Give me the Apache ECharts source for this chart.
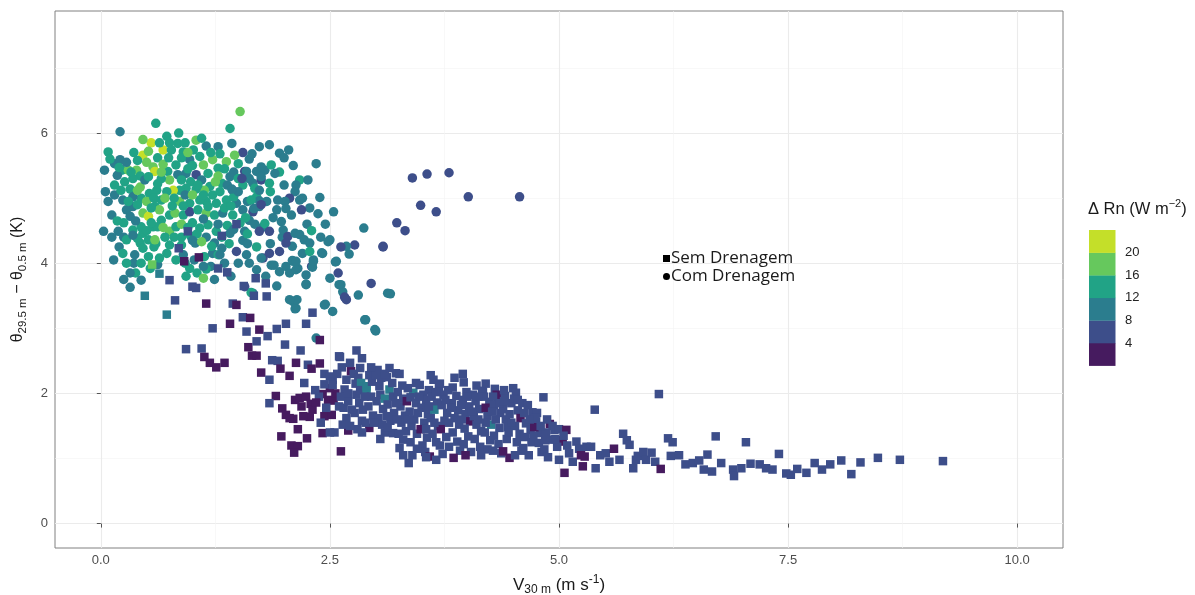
<!DOCTYPE html>
<html>
<head>
<meta charset="utf-8">
<title>Gradiente de temperatura potencial vs vento</title>
<script src="https://cdn.jsdelivr.net/npm/echarts@6/dist/echarts.min.js"></script>
<style>
  html, body { margin: 0; padding: 0; background: #ffffff; }
  #chart { width: 1195px; height: 595px; }
</style>
</head>
<body>
<div id="chart"></div>
<script>
// Axis ticks (major and minor grid positions)
const xTicks = [0, 2.5, 5, 7.5, 10];
const xMinor = [1.25, 3.75, 6.25, 8.75];
const yTicks = [0, 2, 4, 6];
const yMinor = [1, 3, 5, 7];

// Binned colour scale for ΔRn (W m-2)
const rnBreaks = [4, 8, 12, 16, 20];
const rnColors = ['#461b5f', '#3d4e8a', '#2b7d8e', '#21a386', '#66c85d', '#c4df29'];

// Sem Drenagem: [V30m, Δθ, ΔRn]
const semDrenagem = [
  [0.56,3.98,18],[0.64,3.84,10],[0.48,3.50,10],[0.72,3.21,10],[0.75,3.74,6],[0.81,3.43,6],[0.91,4.03,3],[1.07,4.09,3],
  [0.85,4.23,6],[1.28,3.92,6],[1.38,3.86,6],[1.32,4.42,6],[1.48,4.60,6],[0.95,4.49,6],[1.00,3.64,6],[1.04,3.62,6],
  [1.15,3.38,3],[1.44,3.38,6],[1.48,3.36,3],[1.69,3.77,6],[1.80,3.69,6],[1.56,3.65,6],[1.67,3.50,6],[1.81,3.49,6],
  [1.55,3.17,6],[1.63,3.16,3],[1.41,3.07,3],[1.22,3.00,6],[1.59,2.95,6],[1.73,2.98,3],[1.92,2.99,6],[2.02,3.07,6],
  [2.24,3.07,6],[2.31,3.24,6],[1.82,2.88,6],[2.01,2.75,6],[2.18,2.66,6],[2.39,2.82,3],[1.61,2.71,3],[1.65,2.58,3],
  [1.70,2.58,3],[1.70,2.80,6],[1.10,2.69,6],[0.93,2.68,6],[1.13,2.56,3],[1.19,2.47,3],[1.26,2.40,3],[1.35,2.47,3],
  [1.87,2.51,6],[1.93,2.50,6],[2.13,2.47,3],[2.26,2.44,6],[2.39,2.46,3],[2.61,2.56,6],[2.79,2.66,6],[2.85,2.54,6],
  [1.96,2.38,3],[1.75,2.32,3],[1.84,2.21,6],[2.06,2.27,3],[2.30,2.38,3],[2.22,2.16,6],[2.44,2.30,6],[2.72,2.47,6],
  [2.73,2.34,3],[2.83,2.39,6],[2.53,2.21,6],[2.50,2.26,6],
  [1.91,1.96,3],[1.98,1.77,3],[2.02,1.67,3],[2.10,1.61,3],[2.12,1.90,3],[2.17,1.93,3],[2.24,1.95,3],[2.29,1.84,3],
  [2.31,1.75,3],[2.28,1.64,3],[2.21,1.65,3],[2.19,1.80,3],[2.06,1.62,3],[2.42,1.99,3],[2.48,1.90,3],[2.54,1.89,3],
  [2.56,2.00,3],[2.44,1.65,3],[2.52,1.67,3],[2.42,1.39,3],[2.55,1.40,6],[2.50,1.40,6],[2.15,1.45,3],[2.25,1.31,3],
  [1.97,1.34,3],[2.08,1.20,3],[2.15,1.19,3],[2.11,1.09,3],[2.62,1.11,3],[2.70,1.43,3],[1.84,1.85,6],[2.38,1.95,6],
  [2.46,1.78,6],[2.34,2.05,6],[2.50,2.08,3],[2.60,1.80,6],[2.40,1.55,6],[2.35,1.86,3],[2.44,2.14,6],[2.53,2.13,6],
  [2.60,2.57,6],[2.63,2.40,6],[2.66,2.06,6],[2.68,2.21,6],[2.62,1.95,6],[2.65,1.78,6],[2.68,1.62,6],[2.64,1.52,6],[2.70,1.88,6],
  [2.76,2.30,6],[2.78,2.15,6],[2.81,2.24,6],[2.84,2.16,10],[2.79,1.98,6],[2.82,1.85,6],[2.77,1.70,6],[2.85,1.58,6],[2.80,1.45,6],[2.83,2.05,6],
  [2.90,2.06,10],[2.93,2.28,6],[2.90,2.11,10],[2.95,1.95,6],[2.92,1.80,6],[2.97,1.66,6],[2.93,1.47,3],[2.89,1.55,6],[2.96,2.18,6],
  [3.02,2.36,6],[3.04,2.11,6],[3.05,1.98,6],[3.01,1.88,6],[3.08,1.76,6],[3.03,1.62,6],[3.07,1.52,6],[3.10,1.40,6],[3.06,2.24,6],[3.10,1.92,10],
  [3.15,2.39,6],[3.15,2.06,10],[3.19,1.95,6],[3.13,1.83,6],[3.20,1.70,6],[3.16,1.58,6],[3.19,1.39,6],[3.13,1.48,6],[3.22,2.31,6],[3.18,2.16,6],
  [3.26,2.30,6],[3.24,2.02,6],[3.30,1.92,6],[3.27,1.80,6],[3.32,1.66,6],[3.28,1.55,6],[3.30,1.29,6],[3.26,1.16,6],[3.33,1.42,6],[3.29,2.12,6],[3.34,1.88,3],
  [3.41,2.01,10],[3.38,1.94,6],[3.44,1.85,6],[3.37,1.72,6],[3.42,1.60,6],[3.39,1.50,6],[3.45,1.38,6],[3.36,0.93,6],[3.40,1.05,6],[3.44,2.16,6],[3.38,1.25,6],
  [3.48,2.13,6],[3.52,1.98,6],[3.55,1.90,6],[3.50,1.78,6],[3.57,1.68,6],[3.53,1.55,6],[3.49,1.45,3],[3.56,1.32,6],[3.51,1.20,6],[3.58,2.05,6],[3.54,1.10,6],
  [3.59,1.03,3],[3.66,0.98,6],[3.63,2.21,6],[3.61,1.95,6],[3.67,1.86,6],[3.64,1.75,10],[3.60,1.62,6],[3.68,1.50,6],[3.62,1.38,6],[3.66,1.25,6],[3.69,2.08,6],
  [3.70,2.15,6],[3.74,1.98,6],[3.72,1.82,6],[3.78,1.70,6],[3.75,1.58,6],[3.71,1.45,3],[3.77,1.33,6],[3.80,1.18,6],[3.73,1.07,6],[3.79,2.05,6],
  [3.86,2.24,6],[3.84,2.09,6],[3.88,1.96,6],[3.83,1.85,6],[3.90,1.74,6],[3.86,1.62,6],[3.91,1.52,6],[3.84,1.40,6],[3.89,1.26,6],[3.92,1.12,6],[3.85,1.01,3],
  [3.96,2.17,6],[3.99,2.02,6],[3.95,1.90,6],[4.02,1.80,6],[3.98,1.68,6],[4.03,1.57,3],[3.97,1.46,6],[4.01,1.34,6],[3.96,1.22,6],[4.04,1.10,6],
  [4.06,1.98,6],[4.10,2.12,6],[4.09,1.88,6],[4.13,1.76,6],[4.07,1.65,6],[4.10,1.52,6],[4.15,1.42,6],[4.08,1.30,6],[4.14,1.18,6],[4.16,2.04,6],
  [4.17,2.03,6],[4.24,1.87,6],[4.20,1.78,3],[4.26,1.52,10],[4.22,1.65,6],[4.19,1.40,6],[4.25,1.28,6],[4.22,1.14,6],[4.18,1.95,6],
  [4.30,2.07,6],[4.33,1.94,6],[4.29,1.82,6],[4.36,1.70,6],[4.31,1.60,6],[4.35,1.47,6],[4.29,1.35,6],[4.34,1.22,6],[4.37,1.08,6],[4.32,1.98,3],
  [4.41,1.96,6],[4.39,1.76,6],[4.42,1.60,6],[4.46,1.68,6],[4.44,1.48,6],[4.39,1.11,3],[4.46,1.01,3],[4.43,1.30,6],[4.48,1.85,6],
  [4.50,2.08,6],[4.53,2.01,6],[4.60,1.85,6],[4.55,1.74,6],[4.58,1.62,3],[4.52,1.50,6],[4.57,1.38,6],[4.54,1.25,6],[4.59,1.12,6],[4.51,1.92,6],
  [4.61,1.16,6],[4.64,1.54,6],[4.71,1.71,6],[4.66,1.82,6],[4.69,1.44,6],[4.63,1.33,6],[4.67,1.05,6],[4.70,1.25,6],
  [4.75,1.57,6],[4.79,1.39,6],[4.76,1.70,6],[4.73,1.48,3],[4.78,1.24,6],[4.81,1.10,6],[4.74,1.62,6],
  [4.83,1.94,6],[4.84,1.14,6],[4.90,1.53,3],[4.91,1.29,6],[4.93,1.50,6],[4.86,1.40,6],[4.88,1.02,6],[4.95,1.44,6],[4.87,1.60,6],
  [5.00,1.45,6],[5.08,1.44,3],[5.02,1.26,3],[5.04,1.28,3],[5.00,0.98,6],[5.06,0.78,3],[5.11,1.08,6],[4.98,1.18,6],[5.05,1.35,6],[5.09,1.20,6],
  [5.19,1.26,6],[5.28,1.03,3],[5.26,0.88,3],[5.22,1.15,6],[5.15,0.95,6],[5.30,1.18,6],[5.24,1.05,3],[5.35,1.18,6],[5.40,0.85,6],[5.39,1.75,6],
  [2.58,2.30,6],[2.70,2.00,6],[2.74,1.75,6],[2.72,1.50,6],[2.86,1.75,6],[2.88,1.95,6],[2.98,1.55,6],[3.00,2.28,6],[3.12,2.25,6],[3.12,1.65,6],
  [3.22,1.85,6],[3.23,1.60,6],[3.35,2.08,6],[3.35,1.60,6],[3.46,1.70,6],[3.47,1.95,6],[3.55,1.45,6],[3.58,1.80,6],[3.64,1.55,6],[3.66,2.02,6],
  [3.76,1.90,6],[3.80,1.55,6],[3.82,1.78,6],[3.93,1.82,6],[3.94,1.60,6],[4.00,1.95,6],[4.05,1.72,6],[4.12,1.95,6],[4.12,1.60,6],[4.20,1.55,6],
  [4.27,1.72,6],[4.28,1.95,6],[4.35,1.85,6],[4.40,1.88,6],[4.45,1.40,6],[4.48,1.55,6],[4.55,1.90,6],[4.62,1.70,6],[4.68,1.60,6],[4.72,1.35,6],
  [4.80,1.50,6],[4.85,1.28,6],[4.96,1.30,6],[3.45,1.15,6],[3.70,1.20,6],[3.98,1.05,3],[4.15,1.05,6],[4.28,1.12,6],[4.52,1.05,6],[3.25,1.38,6],
  [3.05,1.30,6],[2.85,1.40,6],[2.95,2.40,6],[3.10,2.30,6],[3.60,2.28,6],[3.95,2.30,6],[4.20,2.15,6],[4.40,2.05,6],[3.30,1.05,6],[3.55,1.02,6],
  [5.45,1.05,6],[5.51,1.08,6],[5.55,0.95,6],[5.60,1.15,3],[5.66,0.98,6],[5.70,1.38,6],[5.74,1.28,6],[5.77,1.21,6],[5.81,0.85,6],[5.84,0.98,6],
  [5.86,1.04,6],[5.92,1.10,6],[5.95,0.98,6],[6.01,1.09,6],[6.05,0.95,6],[6.09,1.99,6],[6.11,0.84,3],[6.19,1.31,6],[6.24,1.25,6],[6.22,1.04,6],
  [6.31,1.05,6],[6.38,0.91,6],[6.46,0.93,6],[6.53,0.97,6],[6.58,0.83,6],[6.62,1.06,6],[6.71,1.34,6],[6.67,0.80,6],[6.77,0.93,6],[6.90,0.83,6],
  [6.91,0.73,6],[6.99,0.85,6],[7.04,1.25,6],[7.09,0.92,6],[7.19,0.91,6],[7.26,0.85,6],[7.33,0.83,6],[7.40,1.07,6],[7.48,0.77,6],[7.53,0.75,6],
  [7.60,0.84,6],[7.70,0.78,6],[7.79,0.93,6],[7.87,0.83,6],[7.96,0.91,6],[8.08,0.97,6],[8.19,0.76,6],[8.29,0.94,6],[8.48,1.01,6],[8.72,0.98,6],
  [9.19,0.96,6]
];

// Com Drenagem: [V30m, Δθ, ΔRn]
const comDrenagem = [
  [1.52,6.33,18],[0.60,6.15,14],[0.21,6.02,10],[1.41,6.07,14],[1.43,5.84,10],[1.28,5.79,10],[1.55,5.70,6],[1.73,5.79,10],
  [1.84,5.82,10],[1.95,5.69,10],[2.05,5.74,10],[2.35,5.53,10],
  [0.08,5.71,14],[0.04,5.43,10],[0.15,5.53,10],[0.21,5.59,10],[0.23,5.43,14],[0.30,5.43,18],[0.39,5.43,18],[0.43,5.34,14],
  [0.35,5.30,14],[0.15,5.20,14],[0.32,5.14,14],[0.43,5.17,18],[0.48,5.28,10],[0.57,5.48,18],[0.59,5.41,21],[0.68,5.74,21],
  [0.55,5.85,21],[0.46,5.66,21],[0.75,5.85,14],[0.84,5.84,14],[0.77,5.74,14],[0.90,5.71,14],[1.01,5.74,14],[1.04,5.89,18],
  [0.97,5.59,10],[0.88,5.62,14],[0.82,5.51,14],[0.73,5.41,14],[0.75,5.28,18],[0.66,5.30,14],[0.84,5.36,10],[0.93,5.38,10],
  [1.04,5.36,6],[1.12,5.51,18],[1.17,5.38,14],[1.22,5.59,18],[1.28,5.46,14],[1.37,5.56,18],[1.50,5.53,14],[1.57,5.41,6],
  [1.70,5.41,10],[1.79,5.43,10],[1.41,5.33,10],[1.32,5.23,14],[1.19,5.18,14],[1.13,5.12,18],[1.04,5.14,14],[0.93,5.15,14],
  [0.86,5.12,14],[0.79,5.12,21],[0.72,5.10,14],[0.61,5.12,14],[0.53,5.07,14],[0.44,5.00,14],[0.35,5.02,10],[0.24,4.97,10],
  [1.55,5.20,14],[1.66,5.23,10],[1.75,5.28,6],[1.44,5.12,6],[1.70,5.02,14],[1.48,4.92,10],[1.37,4.97,14],[1.26,4.92,14],
  [1.15,4.95,14],[1.08,4.97,14],[0.97,4.92,14],[0.86,4.95,18],[0.66,4.97,14],[0.59,4.87,14],[0.46,4.77,18],[0.52,4.72,21],
  [0.35,4.87,10],[0.28,4.82,10],[0.12,4.74,10],[0.03,4.49,10],[0.19,4.49,10],[0.35,4.51,14],[0.46,4.46,14],[0.57,4.56,14],
  [0.66,4.66,14],[0.75,4.74,14],[0.81,4.77,18],[0.90,4.74,14],[0.97,4.79,6],[1.06,4.82,14],[1.15,4.77,18],[1.24,4.74,14],
  [1.33,4.77,10],[1.44,4.74,14],[1.55,4.82,10],[1.66,4.79,6],[1.73,4.87,10],[1.77,4.56,10],[1.57,4.49,10],[0.32,4.72,10],
  [0.44,4.56,14],[0.62,4.56,14],[0.75,4.49,18],[0.82,4.56,14],[1.08,4.54,14],[1.17,4.59,14],[1.26,4.49,14],[1.62,4.66,10],
  [0.18,5.35,10],[0.26,5.25,14],[0.50,5.55,18],[0.62,5.62,14],[0.68,5.52,18],[0.95,5.45,14],[1.08,5.64,14],[1.15,5.80,10],
  [1.30,5.68,14],[0.62,5.22,14],[0.70,5.00,18],[0.78,4.88,14],[0.92,5.05,10],[1.00,4.62,14],[1.12,4.68,10],[1.22,5.05,14],
  [1.35,4.85,14],[1.45,5.02,14],[1.60,4.95,10],[1.52,4.62,14],[0.40,4.90,14],[0.50,4.95,18],[0.55,4.62,14],[0.38,4.65,10],
  [0.25,4.62,14],[0.08,4.95,10],[0.15,5.05,10],[0.70,4.40,14],[0.88,4.40,14],[1.38,4.58,14],[1.62,5.60,10],[0.98,5.25,14],
  [1.10,5.28,10],[0.52,5.33,14],[0.40,5.58,14],[1.28,5.34,18],[0.88,4.60,18],[0.64,4.82,18],[1.00,5.05,18],[1.46,5.66,18],
  [0.98,4.42,14],[1.40,4.30,14],[1.55,4.35,10],
  [0.10,5.60,14],[0.20,5.47,14],[0.28,5.55,10],[0.36,5.70,14],[0.52,5.72,18],[0.64,5.85,14],[0.72,5.95,14],[0.92,5.85,14],
  [1.10,5.92,14],[1.20,5.70,14],[1.35,5.45,14],[1.45,5.40,10],[1.50,5.30,14],[1.62,5.30,10],[0.05,5.10,10],[0.22,5.12,14],
  [0.30,4.95,14],[0.40,5.12,18],[0.58,5.00,14],[0.66,5.40,18],[0.80,5.00,14],[0.88,5.28,14],[1.00,5.50,14],[1.06,5.20,14],
  [1.17,4.87,14],[1.30,5.10,14],[1.38,5.20,10],[1.28,4.60,10],[1.42,4.88,14],[1.58,4.70,14],[1.68,4.60,10],[0.18,4.65,14],
  [0.25,4.40,10],[0.40,4.38,14],[0.50,4.50,14],[0.58,4.25,14],[0.68,4.55,18],[0.80,4.40,14],[0.88,4.28,14],[0.95,4.55,14],
  [1.05,4.45,14],[1.15,4.40,10],[1.32,4.40,14],[1.45,4.52,10],[0.20,4.25,10],[0.14,4.05,10],[0.24,4.15,14],[0.36,4.00,10],
  [0.25,3.75,10],[0.38,3.85,14],[0.54,3.92,14],[0.62,3.98,10],[0.72,4.15,14],[0.82,4.05,14],[0.92,4.00,14],[1.02,4.05,10],
  [1.05,3.85,14],[1.20,3.95,10],[1.35,4.00,10],[1.42,3.80,10],[1.50,4.00,10],[1.70,3.90,10],[1.80,3.80,10],[1.92,3.65,10],
  [1.98,4.40,10],[2.20,4.15,10],[2.40,4.40,10],[2.45,4.60,10],[2.20,5.00,10],[2.28,4.85,10],[2.00,5.20,10],[1.95,5.40,14],
  [2.10,5.50,10],[1.85,5.10,14],[1.68,5.15,14],[1.50,5.10,10],[0.46,5.90,18],[0.85,6.00,14],[0.60,4.30,14],[0.12,4.40,10],
  [0.55,4.85,14],[0.74,5.62,14],[0.95,5.70,18],[1.12,5.05,14],[1.25,5.25,18],[0.33,5.40,14],[0.90,4.88,14],[1.00,4.35,10],
  [1.85,4.30,10],[1.60,4.45,14],
  [0.28,4.36,14],[0.35,4.43,10],[0.43,4.31,14],[0.52,4.36,14],[0.59,4.36,18],[0.46,4.23,14],[0.37,4.13,10],[0.28,4.00,14],
  [0.44,4.00,14],[0.52,4.10,14],[0.64,4.08,14],[0.32,3.85,10],[0.44,3.74,10],[0.32,3.63,10],[1.12,3.77,18],[1.15,3.91,14],
  [0.93,3.80,14],[0.97,3.92,14],[0.90,4.13,10],[0.75,4.28,14],[1.03,4.31,10],[1.10,4.33,18],[1.24,4.31,10],[1.32,4.23,10],
  [1.24,3.75,10],[1.13,4.10,14],[1.22,4.15,10],[1.28,4.13,14],[1.48,4.18,6],[1.59,4.13,10],[1.62,4.00,10],[1.57,3.64,6],
  [1.66,3.54,10],[1.41,4.46,10],[1.30,4.13,10],[1.21,4.26,14],[1.12,3.95,10],[1.64,3.55,14],
  [1.77,4.08,6],[1.86,3.97,10],[1.95,3.87,10],[2.02,3.95,10],[2.06,3.85,10],[2.10,4.03,10],[2.15,3.92,10],[2.24,3.82,10],
  [2.24,3.67,10],[2.10,3.41,10],[2.13,3.31,10],[2.30,3.95,6],[2.32,4.05,10],[2.42,4.15,10],[2.50,4.36,10],[2.57,4.03,10],
  [2.59,3.85,6],[2.50,3.77,10],[2.62,3.67,10],[2.64,3.56,10],[2.68,3.44,6],[2.44,3.36,10],[2.53,3.26,10],[2.81,3.51,10],
  [2.95,3.69,6],[2.99,2.98,10],[2.89,3.13,10],[2.77,4.28,6],[2.68,4.26,10],[3.08,4.26,6],[3.13,3.54,10],[2.35,2.85,10],
  [2.39,5.01,10],[2.37,4.76,10],[2.54,4.79,10],[2.87,4.54,10],[2.62,4.25,6],[2.48,4.33,10],[2.71,4.14,10],[2.56,4.02,10],
  [2.41,4.16,10],[2.60,3.67,10],[2.66,3.48,6],[3.16,3.53,10],[2.45,3.37,10],[2.12,3.30,10],[2.14,3.44,10],[2.31,3.94,10],
  [2.88,3.13,10],[3.00,2.96,10],[2.09,4.04,10],
  [1.75,5.48,10],[1.86,5.51,14],[1.59,5.41,10],[1.75,5.33,10],[1.54,5.30,6],[1.43,5.14,10],[1.73,5.12,10],[1.84,5.23,14],
  [2.17,5.28,14],[2.26,5.28,10],[2.13,5.20,10],[2.12,5.10,10],[2.06,5.00,6],[2.01,4.95,10],[2.17,4.97,10],[1.93,4.97,10],
  [1.81,4.95,10],[1.73,4.96,10],[1.64,4.97,14],[1.67,4.84,10],[1.75,4.90,6],[1.92,4.82,10],[2.02,4.84,10],[2.08,4.74,10],
  [2.19,4.82,6],[1.97,4.64,10],[1.79,4.61,14],[1.73,4.49,6],[1.84,4.49,6],[1.99,4.51,10],[2.04,4.41,6],[2.12,4.46,10],
  [2.17,4.44,10],[2.22,4.36,10],[2.28,4.31,10],[2.28,4.18,14],[2.09,4.26,10],[2.02,4.31,6],[1.95,4.18,6],[1.84,4.15,6],
  [1.75,4.08,10],[1.89,3.97,10],[2.13,4.03,10],[2.32,4.03,10],[2.13,3.90,10],[2.24,3.68,10],[2.06,3.44,10],[1.90,5.38,10],
  [2.00,5.62,10],[1.65,5.68,10],[1.88,4.70,10],[2.25,4.60,10],[2.30,4.50,14],[1.60,4.30,10],[1.70,4.25,14],
  [3.40,5.31,6],[3.56,5.37,6],[3.80,5.39,6],[4.01,5.02,6],[4.57,5.02,6],[3.49,4.89,6],[3.66,4.79,6],[3.23,4.62,6],
  [3.32,4.50,6],[3.08,4.25,6]
];

const chart = echarts.init(document.getElementById('chart'), null, { renderer: 'canvas' });

const rnPieces = rnColors.map((color, i) => {
  const piece = { color: color };
  if (i > 0) piece.gte = rnBreaks[i - 1];
  if (i < rnBreaks.length) piece.lt = rnBreaks[i];
  return piece;
});

const baseFont = 'Liberation Sans, Arial, sans-serif';

// Colour-bar legend for ΔRn, built from the same bins
const barLeft = 1089, barTop = 230, barW = 26.5, binH = 22.6;
const colorBar = [];
rnColors.forEach((color, i) => {
  colorBar.push({
    type: 'rect',
    shape: { x: barLeft, y: barTop + (rnColors.length - 1 - i) * binH, width: barW, height: binH + 0.3 },
    style: { fill: color }
  });
});
rnBreaks.forEach((b, i) => {
  colorBar.push({
    type: 'text',
    x: 1125, y: barTop + (rnColors.length - 1 - i) * binH,
    style: { text: String(b), fontSize: 13, fontFamily: baseFont,
             fill: '#222', verticalAlign: 'middle', align: 'left' }
  });
});
colorBar.push({
  type: 'text',
  x: 1088, y: 209,
  style: {
    text: '{a|Δ Rn (W m}{s|−2}{a|)}',
    verticalAlign: 'middle', align: 'left',
    rich: {
      a: { fontSize: 16.5, fontFamily: baseFont, fill: '#1a1a1a' },
      s: { fontSize: 11, fontFamily: baseFont, fill: '#1a1a1a', padding: [0, 0, 10, 0] }
    }
  }
});

const xNameRich = {
  n: { fontSize: 17, fontFamily: baseFont, color: '#1a1a1a' },
  s: { fontSize: 12, fontFamily: baseFont, color: '#1a1a1a', padding: [10, 0, 0, 0] },
  p: { fontSize: 12, fontFamily: baseFont, color: '#1a1a1a', padding: [0, 0, 10, 0] }
};
const yNameRich = {
  n: { fontSize: 16, fontFamily: baseFont, color: '#1a1a1a' },
  s: { fontSize: 11.5, fontFamily: baseFont, color: '#1a1a1a', padding: [10, 0, 0, 0] }
};

const tickLabel = { color: '#4d4d4d', fontSize: 13, fontFamily: baseFont };

chart.setOption({
  backgroundColor: '#ffffff',
  animation: false,
  grid: {
    left: 55, right: 132, top: 11, bottom: 47, outerBoundsMode: 'none', containLabel: false,
    show: true, borderColor: '#808080', borderWidth: 1, backgroundColor: 'transparent'
  },
  legend: {
    orient: 'vertical', left: 658, top: 245, itemWidth: 7, itemHeight: 7, itemGap: 1,
    selectedMode: false,
    textStyle: { fontSize: 17, lineHeight: 17, fontFamily: 'Open Sans, Noto Sans, sans-serif', color: '#1a1a1a', padding: [0, 0, 0, -4] },
    data: [
      { name: 'Sem Drenagem', icon: 'rect', itemStyle: { color: '#000' } },
      { name: 'Com Drenagem', icon: 'circle', itemStyle: { color: '#000' } }
    ]
  },
  visualMap: { type: 'piecewise', show: false, dimension: 2, seriesIndex: [0, 1], pieces: rnPieces },
  xAxis: [{
    type: 'value', min: -0.5, max: 10.5,
    axisLine: { show: false },
    axisTick: { show: true, length: 4, lineStyle: { color: '#555' }, customValues: xTicks },
    axisLabel: Object.assign({ customValues: xTicks, margin: 6, formatter: v => v.toFixed(1) }, tickLabel),
    splitLine: { show: true, lineStyle: { color: '#ebebeb', width: 1.1 } },
    name: '{n|V}{s|30 m}{n| (m s}{p|-1}{n|)}',
    nameLocation: 'middle', nameGap: 26,
    nameTextStyle: { rich: xNameRich }
  }, {
    type: 'value', min: -0.5, max: 10.5, position: 'bottom',
    axisLine: { show: false }, axisTick: { show: false, customValues: xMinor },
    axisLabel: { show: false, customValues: xMinor },
    splitLine: { show: true, lineStyle: { color: '#f3f3f3', width: 0.6 } }
  }],
  yAxis: [{
    type: 'value', min: -0.375, max: 7.875,
    axisLine: { show: false },
    axisTick: { show: true, length: 4, lineStyle: { color: '#555' }, customValues: yTicks },
    axisLabel: Object.assign({ customValues: yTicks, margin: 7, formatter: v => String(v) }, tickLabel),
    splitLine: { show: true, lineStyle: { color: '#ebebeb', width: 1.1 } },
    name: '{n|θ}{s|29.5 m}{n| − θ}{s|0.5 m}{n| (K)}',
    nameLocation: 'middle', nameRotate: 90, nameGap: 26,
    nameTextStyle: { rich: yNameRich }
  }, {
    type: 'value', min: -0.375, max: 7.875, position: 'left',
    axisLine: { show: false }, axisTick: { show: false, customValues: yMinor },
    axisLabel: { show: false, customValues: yMinor },
    splitLine: { show: true, lineStyle: { color: '#f3f3f3', width: 0.6 } }
  }],
  graphic: colorBar,
  series: [{
    type: 'scatter', name: 'Com Drenagem', symbol: 'circle', symbolSize: 9.5,
    xAxisIndex: 0, yAxisIndex: 0, data: comDrenagem, z: 2,
    itemStyle: { opacity: 1 }, emphasis: { disabled: true }
  }, {
    type: 'scatter', name: 'Sem Drenagem', symbol: 'rect', symbolSize: 8.5,
    xAxisIndex: 0, yAxisIndex: 0, data: semDrenagem, z: 3,
    itemStyle: { opacity: 1 }, emphasis: { disabled: true }
  }]
});
</script>
</body>
</html>
